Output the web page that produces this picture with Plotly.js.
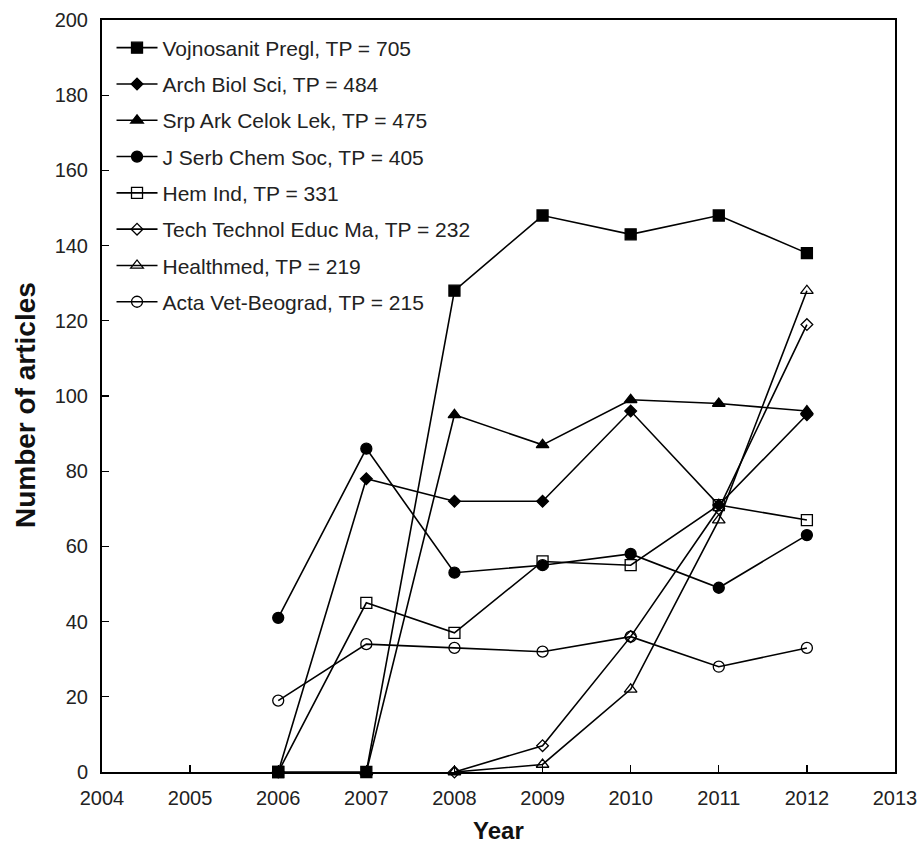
<!DOCTYPE html>
<html>
<head>
<meta charset="utf-8">
<script src="https://cdn.plot.ly/plotly-3.0.1.min.js"></script>
<style>html,body{margin:0;padding:0;background:#fff;}#chart{width:920px;height:846px;}</style>
</head>
<body>
<div id="chart"></div>
<script>
const seriesNames = [
  "Vojnosanit Pregl, TP = 705",
  "Arch Biol Sci, TP = 484",
  "Srp Ark Celok Lek, TP = 475",
  "J Serb Chem Soc, TP = 405",
  "Hem Ind, TP = 331",
  "Tech Technol Educ Ma, TP = 232",
  "Healthmed, TP = 219",
  "Acta Vet-Beograd, TP = 215"
];
const yearsFull = [2006, 2007, 2008, 2009, 2010, 2011, 2012];
const yearsSrp = [2007, 2008, 2009, 2010, 2011, 2012];
const yearsLate = [2008, 2009, 2010, 2011, 2012];

const vojnosanit = [0, 0, 128, 148, 143, 148, 138];
const archBiol = [0, 78, 72, 72, 96, 71, 95];
const srpArk = [0, 95, 87, 99, 98, 96];
const jSerbChem = [41, 86, 53, 55, 58, 49, 63];
const hemInd = [0, 45, 37, 56, 55, 71, 67];
const techTechnol = [0, 7, 36, 70, 119];
const healthmed = [0, 2, 22, 67, 128];
const actaVet = [19, 34, 33, 32, 36, 28, 33];

const xTickVals = [2004, 2005, 2006, 2007, 2008, 2009, 2010, 2011, 2012, 2013];
const yTickVals = [0, 20, 40, 60, 80, 100, 120, 140, 160, 180, 200];
const xTitle = "Year";
const yTitle = "Number of articles";

const xs = [yearsFull, yearsFull, yearsSrp, yearsFull, yearsFull, yearsLate, yearsLate, yearsFull];
const ys = [vojnosanit, archBiol, srpArk, jSerbChem, hemInd, techTechnol, healthmed, actaVet];
const symbols = ["square", "diamond", "triangle-up", "circle", "square-open", "diamond-open", "triangle-up-open", "circle-open"];
const sizes = [11, 9, 11, 11, 11, 9, 11, 11];

const traces = seriesNames.map((name, i) => ({
  type: "scatter",
  mode: "lines+markers",
  name: name,
  legendgroup: "g" + i,
  x: xs[i],
  y: ys[i],
  line: {color: "#000", width: 1.6},
  marker: {symbol: symbols[i], size: sizes[i], color: "#000", line: {color: "#000", width: 1.3}},
  cliponaxis: false
}));

const layout = {
  width: 920,
  height: 846,
  margin: {l: 102, r: 25, t: 20, b: 74},
  paper_bgcolor: "#fff",
  plot_bgcolor: "#fff",
  font: {family: "Liberation Sans, Arial, sans-serif", color: "#222", size: 18},
  showlegend: true,
  legend: {
    x: 0.012, y: 0.990, xanchor: "left", yanchor: "top",
    bgcolor: "rgba(0,0,0,0)",
    font: {size: 21, color: "#222"},
    tracegroupgap: 6,
    itemwidth: 41
  },
  xaxis: {
    range: [2004, 2013],
    tickvals: xTickVals,
    ticktext: xTickVals.map(String),
    ticks: "inside", ticklen: 7, tickwidth: 1.3, tickcolor: "#000",
    ticklabelstandoff: 7,
    showgrid: false, zeroline: false,
    showline: true, linecolor: "#000", linewidth: 2, mirror: true,
    tickfont: {size: 20, color: "#222"}
  },
  yaxis: {
    range: [0, 200],
    tickvals: yTickVals,
    ticks: "inside", ticklen: 7, tickwidth: 1.3, tickcolor: "#000",
    ticklabelstandoff: 8,
    showgrid: false, zeroline: false,
    showline: true, linecolor: "#000", linewidth: 2, mirror: true,
    tickfont: {size: 20, color: "#222"}
  },
  annotations: [
    {text: "<b>" + xTitle + "</b>", xref: "paper", yref: "paper", x: 0.5, y: -0.078,
     xanchor: "center", yanchor: "middle", showarrow: false, font: {size: 24, color: "#111"}},
    {text: "<b>" + yTitle + "</b>", xref: "paper", yref: "paper", x: 0, xshift: -77, y: 0.488,
     xanchor: "center", yanchor: "middle", textangle: -90, showarrow: false, font: {size: 28, color: "#111"}}
  ]
};

Plotly.newPlot("chart", traces, layout, {displayModeBar: false, staticPlot: true});
</script>
</body>
</html>
